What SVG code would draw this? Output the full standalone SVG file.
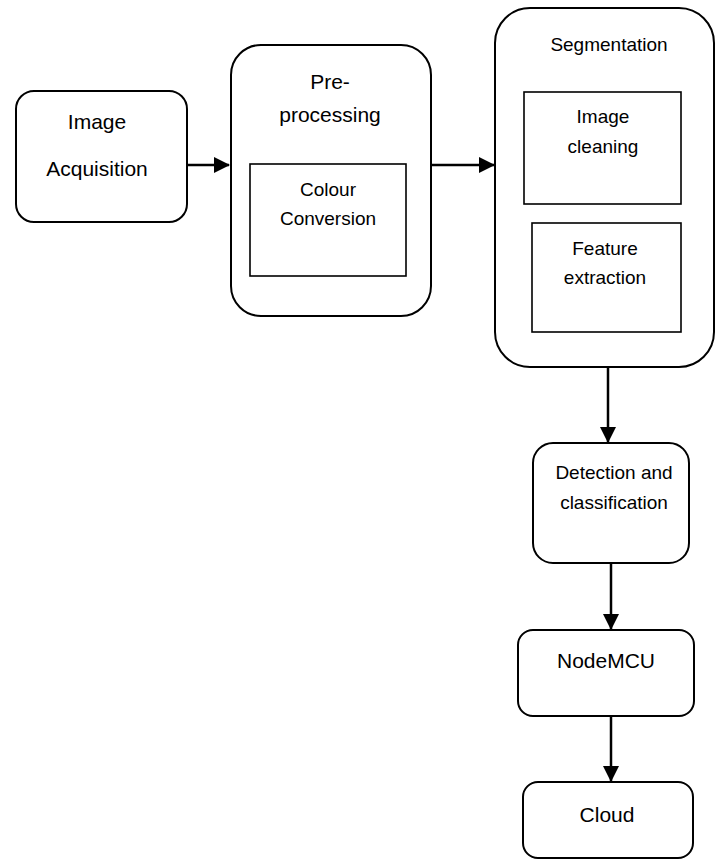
<svg xmlns="http://www.w3.org/2000/svg" width="720" height="861" viewBox="0 0 720 861">
<style>
.box{fill:#fff;stroke:#000;stroke-width:2}
.inner{fill:#fff;stroke:#000;stroke-width:1.6}
.t{font-family:"Liberation Sans",Arial,sans-serif;font-size:19px;fill:#000;text-anchor:middle}
.tl{font-size:21px}
.conn{stroke:#000;stroke-width:2.5;fill:none}
</style>
<defs>
<marker id="ah" markerUnits="userSpaceOnUse" markerWidth="16" markerHeight="16" viewBox="0 0 16 16" refX="15" refY="8" orient="auto">
<path d="M0,0 L16,8 L0,16 Z" fill="#000"/>
</marker>
</defs>
<rect width="720" height="861" fill="#fff"/>
<g id="connectors">
<line class="conn" x1="187" y1="165" x2="229" y2="165" marker-end="url(#ah)"/>
<line class="conn" x1="431" y1="165" x2="494" y2="165" marker-end="url(#ah)"/>
<line class="conn" x1="608" y1="367" x2="608" y2="442" marker-end="url(#ah)"/>
<line class="conn" x1="611" y1="563" x2="611" y2="629" marker-end="url(#ah)"/>
<line class="conn" x1="611" y1="716" x2="611" y2="781" marker-end="url(#ah)"/>
</g>
<g id="image-acquisition">
<rect class="box" x="16" y="91" width="171" height="131" rx="18"/>
<text class="t tl" x="97" y="129">Image</text>
<text class="t tl" x="97" y="176">Acquisition</text>
</g>
<g id="pre-processing">
<rect class="box" x="231" y="45" width="200" height="271" rx="30"/>
<text class="t tl" x="330" y="89">Pre-</text>
<text class="t tl" x="330" y="122">processing</text>
<g id="colour-conversion">
<rect class="inner" x="250" y="164" width="156" height="112"/>
<text class="t" x="328" y="196">Colour</text>
<text class="t" x="328" y="225">Conversion</text>
</g>
</g>
<g id="segmentation">
<rect class="box" x="495" y="8" width="219" height="359" rx="35"/>
<text class="t" x="609" y="51">Segmentation</text>
<g id="image-cleaning">
<rect class="inner" x="524" y="92" width="157" height="112"/>
<text class="t" x="603" y="123">Image</text>
<text class="t" x="603" y="153">cleaning</text>
</g>
<g id="feature-extraction">
<rect class="inner" x="532" y="223" width="149" height="109"/>
<text class="t" x="605" y="255">Feature</text>
<text class="t" x="605" y="284">extraction</text>
</g>
</g>
<g id="detection">
<rect class="box" x="533" y="443" width="156" height="120" rx="20"/>
<text class="t" x="614" y="479">Detection and</text>
<text class="t" x="614" y="509">classification</text>
</g>
<g id="nodemcu">
<rect class="box" x="518" y="630" width="176" height="86" rx="15"/>
<text class="t tl" x="606" y="668">NodeMCU</text>
</g>
<g id="cloud">
<rect class="box" x="523" y="782" width="170" height="76" rx="15"/>
<text class="t tl" x="607" y="822">Cloud</text>
</g>
</svg>
